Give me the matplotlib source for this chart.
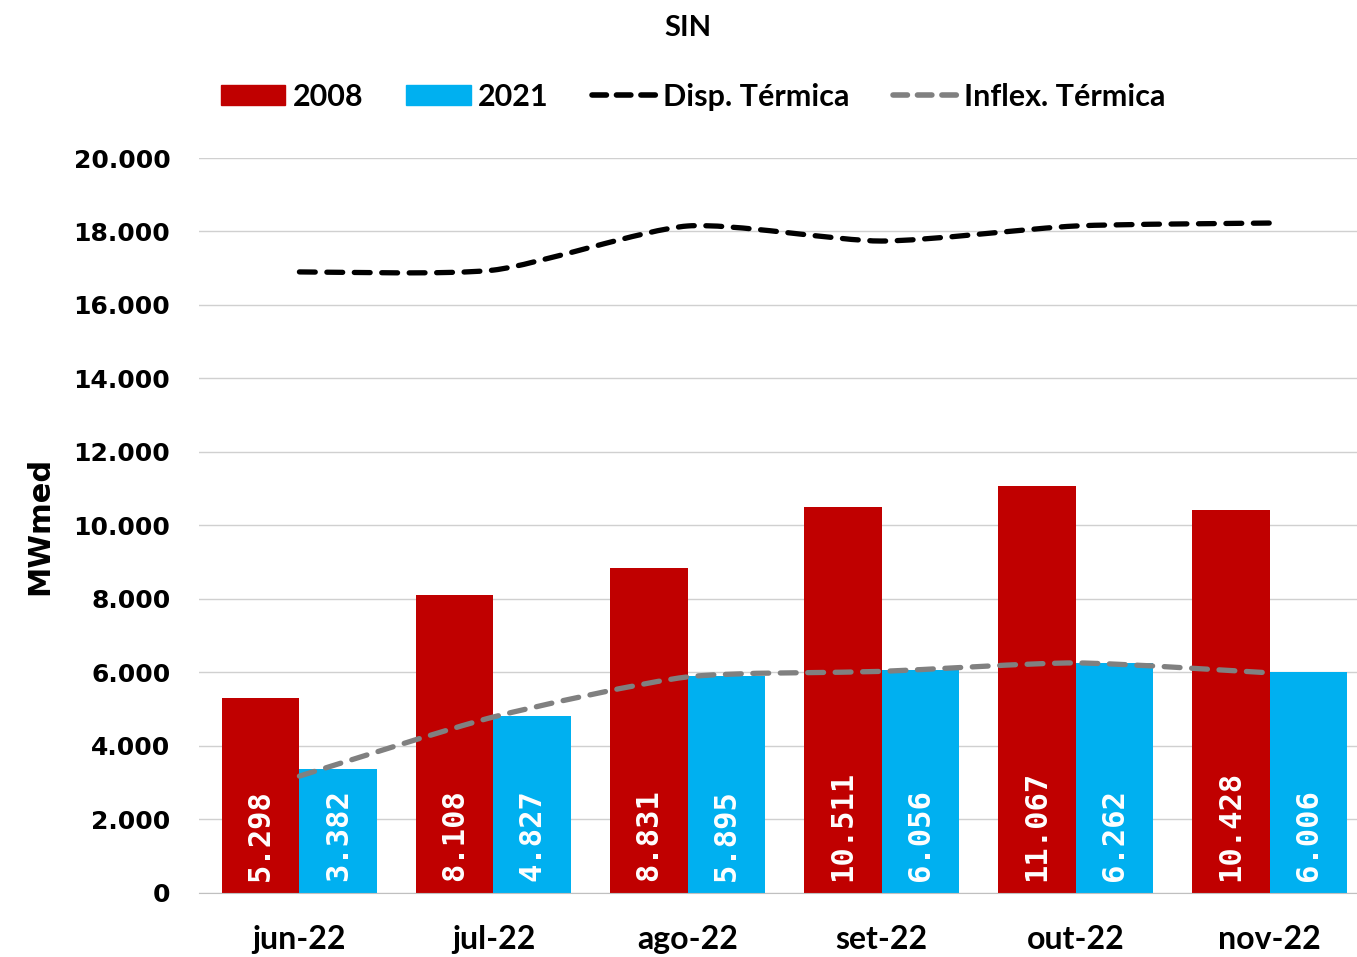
import numpy as np
import matplotlib.pyplot as plt
from matplotlib.path import Path
from matplotlib.patches import PathPatch
from matplotlib.lines import Line2D
from matplotlib.ticker import FuncFormatter

months = ["jun-22", "jul-22", "ago-22", "set-22", "out-22", "nov-22"]
v2008 = [5298, 8108, 8831, 10511, 11067, 10428]
v2021 = [3382, 4827, 5895, 6056, 6262, 6006]
disp_termica = [16900, 16950, 18150, 17740, 18150, 18230]
inflex_termica = [3180, 4790, 5880, 6030, 6260, 5990]

RED = "#C00000"
CYAN = "#00B0F0"


def smooth_path(x, y, k=9.0):
    # smoothed line like Excel: cubic bezier through the points
    x = np.asarray(x, float)
    y = np.asarray(y, float)
    verts = [(x[0], y[0])]
    codes = [Path.MOVETO]
    n = len(x)
    for i in range(n - 1):
        p0 = (x[max(i - 1, 0)], y[max(i - 1, 0)])
        p1 = (x[i], y[i])
        p2 = (x[i + 1], y[i + 1])
        p3 = (x[min(i + 2, n - 1)], y[min(i + 2, n - 1)])
        c1 = (p1[0] + (p2[0] - p0[0]) / k, p1[1] + (p2[1] - p0[1]) / k)
        c2 = (p2[0] - (p3[0] - p1[0]) / k, p2[1] - (p3[1] - p1[1]) / k)
        verts += [c1, c2, p2]
        codes += [Path.CURVE4] * 3
    return Path(verts, codes)


fig = plt.figure(figsize=(13.57, 9.57), dpi=100)
ax = fig.add_axes([0.147, 0.0669, 0.853, 0.768])

x = np.arange(len(months))
w = 0.4
ax.bar(x - w / 2, v2008, w, color=RED, zorder=2)
ax.bar(x + w / 2, v2021, w, color=CYAN, zorder=2)

lab_kw = dict(rotation=90, ha="center", va="bottom", color="white", fontsize=22,
              fontweight="bold", family="DejaVu Sans Mono", zorder=4)
for xi, v in zip(x, v2008):
    ax.text(xi - w / 2, 320, f"{v:,}".replace(",", "."), **lab_kw)
for xi, v in zip(x, v2021):
    ax.text(xi + w / 2, 320, f"{v:,}".replace(",", "."), **lab_kw)

dash = (3.0, 2.2)
for vals, col in [(disp_termica, "black"), (inflex_termica, "#808080")]:
    patch = PathPatch(smooth_path(x, vals), facecolor="none", edgecolor=col, lw=3.8,
                      linestyle=(0, dash), capstyle="round", zorder=3)
    ax.add_patch(patch)

ax.set_xlim(-0.515, 5.45)
ax.set_ylim(0, 20000)
ax.set_yticks(range(0, 20001, 2000))
ax.yaxis.set_major_formatter(FuncFormatter(lambda v, p: f"{int(v):,}".replace(",", ".")))
ax.set_xticks(x)
ax.set_xticklabels(months, fontsize=23, fontweight="bold", family="Lato")
for lab in ax.get_yticklabels():
    lab.set_fontsize(18)
    lab.set_fontweight("bold")
ax.tick_params(axis="y", length=0, pad=21)
ax.tick_params(axis="x", length=0, pad=23)
ax.grid(axis="y", color="#D0D0D0", lw=1, zorder=0)
for s in ["top", "right", "left"]:
    ax.spines[s].set_visible(False)
ax.spines["bottom"].set_color("#C0C0C0")
ax.set_ylabel("MWmed", fontsize=22, fontweight="bold", labelpad=14)

fig.text(0.507, 0.971, "SIN", ha="center", va="center", fontsize=21, fontweight="bold", family="Lato")

handles = [
    plt.Rectangle((0, 0), 1, 1, color=RED),
    plt.Rectangle((0, 0), 1, 1, color=CYAN),
    Line2D([], [], color="black", lw=4, linestyle=(0, (2.6, 1.8)), dash_capstyle="round"),
    Line2D([], [], color="#808080", lw=4, linestyle=(0, (2.6, 1.8)), dash_capstyle="round"),
]
fig.legend(handles, ["2008", "2021", "Disp. Térmica", "Inflex. Térmica"], loc="center",
           bbox_to_anchor=(0.511, 0.899), ncol=4, frameon=False, handlelength=2.1,
           handleheight=0.6, handletextpad=0.25, columnspacing=1.4,
           prop={"family": "Lato", "weight": "bold", "size": 22})

fig.savefig("out.png", dpi=100)
